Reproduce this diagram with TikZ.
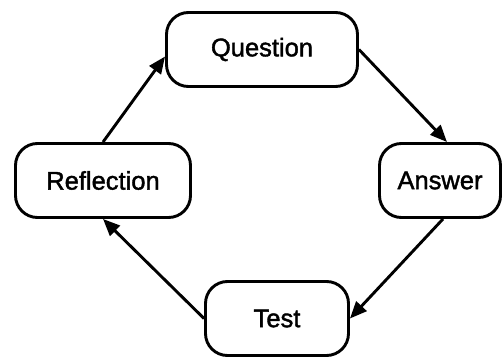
\documentclass[tikz,border=0pt]{standalone}
\usepackage{fontspec}
\setmainfont{Liberation Sans}[FakeBold=1.6]
\usetikzlibrary{arrows.meta}
\begin{document}
\begin{tikzpicture}[x=1pt,y=-1pt,
  stage/.style={draw, line width=2.9pt, rounded corners=22pt, inner sep=0pt,
    minimum height=74pt, font=\fontsize{25.5}{30}\selectfont},
  flow/.style={line width=2.9pt, -{Triangle[length=17pt,width=14pt]}}]
  \useasboundingbox (0,0) rectangle (502,358);
  % the four stages of the cycle
  \node[stage, minimum width=191pt] (q) at (262,49.5) {Question};
  \node[stage, minimum width=121pt] (a) at (440,180.5) {Answer};
  \node[stage, minimum width=143pt] (t) at (277,318.5) {Test};
  \node[stage, minimum width=175pt] (r) at (103,180.5) {Reflection};
  % clockwise arrows between the stages
  \draw[flow] (r.north) -- ([yshift=-7pt]q.west);
  \draw[flow] (q.east) -- ([xshift=7pt]a.north);
  \draw[flow] ([xshift=3pt]a.south) -- (t.east);
  \draw[flow] (t.west) -- (r.south);
\end{tikzpicture}
\end{document}
